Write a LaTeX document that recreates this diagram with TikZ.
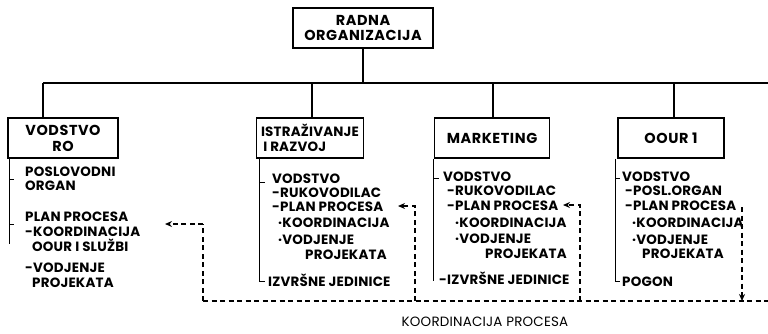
\documentclass[tikz,border=0pt]{standalone}
\usepackage{fontspec}
\setmainfont{Poppins}
\newfontfamily\boxfont[LetterSpace=4]{Poppins}
\newfontfamily\listfont[LetterSpace=1.5]{Poppins}
\usetikzlibrary{arrows.meta}
\begin{document}
\begin{tikzpicture}[x=1bp,y=-1bp,
  lbl/.style={font=\listfont\bfseries\fontsize{13.5}{15}\selectfont},
  box/.style={font=\boxfont\bfseries\fontsize{14.5}{16}\selectfont, draw, line width=1.5bp, minimum height=40bp, inner sep=1bp, align=center},
  txt/.style={lbl, anchor=base west, inner sep=0pt},
  tree/.style={line width=1.2bp},
  link/.style={line width=1.4bp, dash pattern=on 5bp off 3.5bp},
  tip/.style={-{Stealth[length=7bp,width=6bp]}}
]
\useasboundingbox (0,0) rectangle (768,333);

% boxes
\node[box, minimum width=140bp] (top) at (363,28) {RADNA\\ORGANIZACIJA};
\node[box, minimum width=110bp] (vod) at (63,138) {VODSTVO\\RO};
\node[box, minimum width=107bp, align=left, font=\listfont\bfseries\fontsize{13.5}{15}\selectfont] (istr) at (310,138) {ISTRAŽIVANJE\\\,I RAZVOJ};
\node[box, minimum width=115bp] (mark) at (492,138) {MARKETING};
\node[box, minimum width=106bp] (oour) at (671,138) {OOUR 1};

% bus
\coordinate (busL) at (43,83);
\coordinate (busR) at (768,83);
\coordinate (d2) at (312,83);
\coordinate (d3) at (493,83);
\coordinate (d4) at (674,83);
\draw[tree] (busL) -- (busR);
\draw[tree] (top.south) -- (top.south |- busL);
\draw[tree] (busL) -- (busL |- vod.north);
\draw[tree] (d2) -- (d2 |- istr.north);
\draw[tree] (d3) -- (d3 |- mark.north);
\draw[tree] (d4) -- (d4 |- oour.north);

% column 1
\node[txt] (a1) at (25,176) {POSLOVODNI};
\node[txt] (a2) at (25,190) {ORGAN};
\node[txt] (a3) at (25,221) {PLAN PROCESA};
\node[txt] (a4) at (25,236) {-KOORDINACIJA};
\node[txt] (a5) at (32,251) {OOUR I SLUŽBI};
\node[txt] (a6) at (25,272) {-VODJENJE};
\node[txt] (a7) at (32,287) {PROJEKATA};
\draw[tree] ([xshift=2bp]vod.south west) -- ++(0,85);
\draw[tree] ([xshift=2bp,yshift=-21bp]vod.south west) -- ++(5,0);
\draw[tree] ([xshift=2bp,yshift=-66bp]vod.south west) -- ++(5,0);

% column 2
\node[txt] (b1) at (272,183) {VODSTVO};
\node[txt] (b2) at (272,197) {-RUKOVODILAC};
\node[txt] (b3) at (272,211) {-PLAN PROCESA};
\node[txt] (b4) at (278,227) {·KOORDINACIJA};
\node[txt] (b5) at (278,244) {·VODJENJE};
\node[txt] (b6) at (305,259) {PROJEKATA};
\node[txt] (b7) at (268,286) {IZVRŠNE JEDINICE};
\draw[tree] ([xshift=4bp]istr.south west) -- ++(0,123) -- ++(5,0);
\draw[tree] ([xshift=4bp,yshift=-24bp]istr.south west) -- ++(5,0);

% column 3
\node[txt] (c1) at (443,181) {VODSTVO};
\node[txt] (c2) at (447,195) {-RUKOVODILAC};
\node[txt] (c3) at (447,210) {-PLAN PROCESA};
\node[txt] (c4) at (455,227) {·KOORDINACIJA};
\node[txt] (c5) at (455,243) {·VODJENJE};
\node[txt] (c6) at (485,258) {PROJEKATA};
\node[txt] (c7) at (439,284) {-IZVRŠNE JEDINICE};
\draw[tree] (mark.south west) -- ++(0,122);
\draw[tree] ([yshift=-20bp]mark.south west) -- ++(5,0);

% column 4
\node[txt] (e1) at (622,181) {VODSTVO};
\node[txt] (e2) at (625,195) {-POSL.ORGAN};
\node[txt] (e3) at (625,210) {-PLAN PROCESA};
\node[txt] (e4) at (632,227) {·KOORDINACIJA};
\node[txt] (e5) at (632,244) {·VODJENJE};
\node[txt] (e6) at (642,258) {PROJEKATA};
\node[txt] (e7) at (622,286) {POGON};
\draw[tree] ([xshift=-2bp]oour.south west) -- ++(0,123) -- ++(5,0);
\draw[tree] ([xshift=-2bp,yshift=-20bp]oour.south west) -- ++(5,0);

% coordination links
\coordinate (k1) at (203,224);
\coordinate (k1e) at (165,224);
\coordinate (k2) at (415,206);
\coordinate (k2e) at (398,206);
\coordinate (k3) at (580,205);
\coordinate (k3e) at (563,205);
\coordinate (k4) at (742,207);
\coordinate (bL) at (203,301);
\coordinate (bR) at (768,301);
\draw[link] (bL) -- (bR);
\draw[link] (bL) -- (k1);
\draw[link,tip] (k1) -- (k1e);
\draw[link,tip] (k2 |- bL) -- (k2) -- (k2e);
\draw[link,tip] (k3 |- bL) -- (k3) -- (k3e);
\draw[link,tip] (k4) -- (k4 |- bL);
\node[font=\listfont\fontsize{13.5}{15}\selectfont, inner sep=0pt] (lab) at (485,322) {KOORDINACIJA PROCESA};
\end{tikzpicture}
\end{document}
